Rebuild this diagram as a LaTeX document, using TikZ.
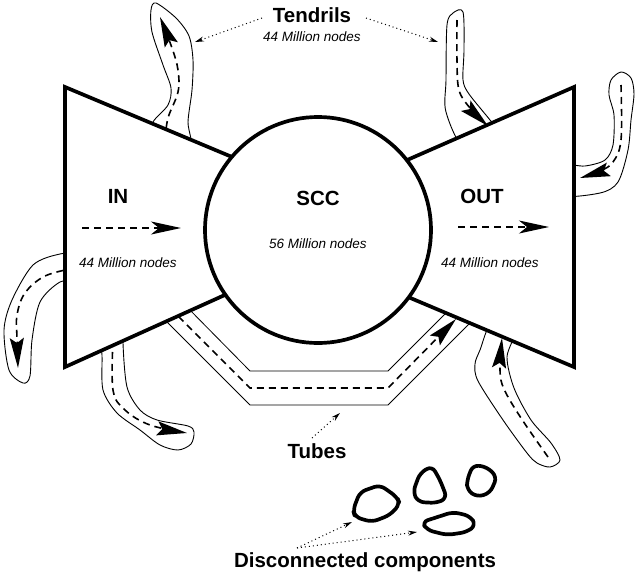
\documentclass[tikz,border=0pt]{standalone}
\usepackage{fontspec}
\setmainfont{Liberation Sans}
\usetikzlibrary{arrows.meta}
\begin{document}
\begin{tikzpicture}[x=1pt,y=-1pt,
  tendril/.style={draw=black, line width=0.9pt, fill=white},
  flow/.style={line width=1.6pt, dash pattern=on 7pt off 5pt},
  bigtip/.style={-{Stealth[length=30pt,width=14pt,inset=5pt]}},
  midtip/.style={-{Stealth[length=30pt,width=13pt,inset=8pt]}},
  tubeline/.style={draw=black, line width=0.8pt},
  bowtie/.style={draw=black, line width=3.7pt, fill=white, line join=miter},
  lbl/.style={font=\fontsize{20.5}{22}\selectfont\bfseries, inner sep=0pt},
  cnt/.style={font=\fontsize{13.5}{15}\selectfont\itshape, inner sep=0pt},
  pointer/.style={line width=1pt, dash pattern=on 1pt off 3pt, -{Stealth[length=9pt,width=5pt]}},
  blob/.style={draw=black, line width=3.7pt, rounded corners=6pt, line join=round}
]
\useasboundingbox (0,0) rectangle (640,579);

% ---------- tendrils ----------
% top-left
\draw[tendril] plot[smooth cycle, tension=0.5] coordinates {
  (156,3) (176,18) (189,36) (193,60) (192,90) (188,122) (190,150)
  (150,140) (153,122) (168,105) (171,88) (163,65) (152,32) (151,10)};
\draw[flow, bigtip] plot[smooth, tension=0.6] coordinates {
  (165,140) (168,118) (178,92) (178,70) (172,48) (160,17)};
% top middle-right
\draw[tendril] plot[smooth cycle, tension=0.5] coordinates {
  (447,25) (453,13) (463,12) (464,50) (463,80) (469,94) (490,120) (505,140)
  (465,148) (446,112) (446,80)};
\draw[flow, bigtip] plot[smooth, tension=0.6] coordinates {
  (457,20) (457,60) (459,90) (470,108) (488,126)};
% right
\draw[tendril] plot[smooth cycle, tension=0.5] coordinates {
  (560,166) (585,166) (605,160) (613,145) (614,115) (609,95) (611,80)
  (621,72) (631,78) (634,94) (631,120) (628,150) (618,182) (600,193) (560,195)};
\draw[flow, bigtip] plot[smooth, tension=0.6] coordinates {
  (621,85) (621,140) (613,162) (600,171) (580,178)};
% left
\draw[tendril] plot[smooth cycle, tension=0.5] coordinates {
  (80,255) (60,254) (33,265) (12,300) (4,330) (9,370) (23,383) (30,376)
  (32,340) (40,302) (60,282) (80,280)};
\draw[flow, bigtip] plot[smooth, tension=0.6] coordinates {
  (75,268) (45,276) (25,293) (17,315) (17,338) (18,368)};
% bottom-left
\draw[tendril] plot[smooth cycle, tension=0.5] coordinates {
  (100,330) (102,355) (103,390) (117,413) (140,430) (160,445) (178,450)
  (191,444) (194,432) (188,426) (157,420) (140,410) (127,387) (123,343) (125,328)};
\draw[flow, bigtip] plot[smooth, tension=0.6] coordinates {
  (113,340) (113,390) (125,410) (150,425) (187,433)};
% bottom-right
\draw[tendril] plot[smooth cycle, tension=0.5] coordinates {
  (492,322) (480,350) (475,364) (478,381) (503,420) (527,453) (537,463)
  (550,467) (560,460) (551,443) (531,420) (514,388) (507,357) (515,330)};
\draw[flow, bigtip] plot[smooth, tension=0.6] coordinates {
  (548,457) (521,418) (504,389) (500,370) (502,338)};

% ---------- tube ----------
\draw[tubeline] (160,315) -- (250,405) -- (388,405) -- (478,315);
\draw[tubeline] (183,303) -- (250,371) -- (388,371) -- (452,307);
\draw[flow, bigtip] (170,308) -- (250,388) -- (388,388) -- (456,319);

% ---------- bow tie ----------
\draw[bowtie] (65,87) -- (318,193) -- (318,253) -- (65,367) -- cycle;
\draw[bowtie] (574,87) -- (318,199) -- (318,259) -- (574,367) -- cycle;
\node[draw=black, line width=3.7pt, fill=white, circle, minimum size=226pt, inner sep=0pt] (scc) at (318,230) {};

% ---------- labels ----------
\node[lbl] (tendrils) at (312,15) {Tendrils};
\node[cnt] (tendrilsn) at (312,37) {44 Million nodes};
\node[lbl] (in) at (118,196) {IN};
\node[cnt] (inn) at (128,263) {44 Million nodes};
\node[lbl] (scclbl) at (318,198) {SCC};
\node[cnt] (sccn) at (318,244) {56 Million nodes};
\node[lbl] (out) at (482,196) {OUT};
\node[cnt] (outn) at (490,263) {44 Million nodes};
\node[lbl] (tubes) at (317,451) {Tubes};
\node[lbl] (disc) at (365,562) {Disconnected components};

% inner flows
\coordinate (ina) at (82,228);
\coordinate (inb) at (181,228);
\draw[flow, midtip] (ina) -- (inb);
\coordinate (outa) at (458,227);
\coordinate (outb) at (549,227);
\draw[flow, midtip] (outa) -- (outb);

% ---------- disconnected components ----------
\draw[blob] (353,510) -- (360,492) -- (380,485) -- (397,497) -- (400,504) -- (390,515) -- (372,522) -- (355,517) -- cycle;
\draw[blob] (420,473) -- (432,466) -- (440,480) -- (447,498) -- (437,503) -- (418,502) -- (413,492) -- cycle;
\draw[blob] (467,480) -- (473,465) -- (487,467) -- (497,477) -- (490,493) -- (477,497) -- (467,490) -- cycle;
\draw[blob] (422,522) -- (453,512) -- (470,516) -- (476,525) -- (467,532) -- (447,535) -- (427,530) -- cycle;

% ---------- pointers ----------
\coordinate (tl) at (195,42);
\coordinate (tr) at (438,42);
\coordinate (tubetip) at (340,413);
\coordinate (c1) at (352,522);
\coordinate (c2) at (417,532);
\coordinate (tla) at (262,18);
\coordinate (tra) at (366,18);
\coordinate (tba) at (312,438);
\coordinate (dca) at (297,548);
\draw[pointer] (tla) -- (tl);
\draw[pointer] (tra) -- (tr);
\draw[pointer] (tba) -- (tubetip);
\draw[pointer] (dca) -- (c1);
\draw[pointer] (dca) -- (c2);
\end{tikzpicture}
\end{document}
